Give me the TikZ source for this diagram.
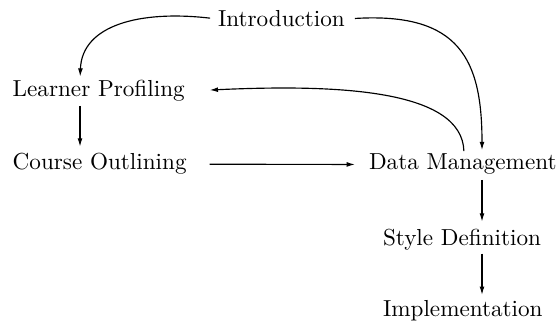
\documentclass[tikz,border=0pt]{standalone}
\usetikzlibrary{arrows.meta,calc}
\newdimen\pxu
\pxu=0.43178pt
\begin{document}
\begin{tikzpicture}[x=0.43178pt,y=-0.43178pt,
  lbl/.style={inner sep=0pt,outer sep=0pt,anchor=base west,font=\fontsize{10}{12}\selectfont},
  conn/.style={line width=0.5pt,-{Latex[length=3.6pt,width=2.1pt]}}]
\useasboundingbox (0,0) rectangle (559,322);
\fill[white] (0,0) rectangle (559,322);
\node[lbl] (intro) at (218,27) {Introduction};
\node[lbl] (lp) at (12.7,97) {Learner Profiling};
\node[lbl] (co) at (12.7,170) {Course Outlining};
\node[lbl] (dm) at (369,170) {Data Management};
\node[lbl] (sd) at (383,246) {Style Definition};
\node[lbl] (impl) at (383,317) {Implementation};
\coordinate (colL) at (80,0);
\coordinate (colR) at (482,0);
\coordinate (colM) at (464,0);
% Introduction -> Learner Profiling
\draw[conn,shorten <=8\pxu,shorten >=4\pxu] (intro.west) .. controls (140,10) and (82,25) .. (lp.north -| colL);
% Introduction -> Data Management
\draw[conn,shorten <=10\pxu,shorten >=4\pxu] (intro.east) .. controls (460,12) and (482,60) .. (dm.north -| colR);
% Data Management -> Learner Profiling
\draw[conn,shorten <=3\pxu,shorten >=25\pxu] (dm.north -| colM) .. controls (462,90) and (340,84) .. (lp.east);
% Learner Profiling -> Course Outlining
\draw[conn,shorten <=4\pxu,shorten >=7\pxu] (lp.south -| colL) -- (co.north -| colL);
% Course Outlining -> Data Management
\draw[conn,shorten <=23\pxu,shorten >=14\pxu] (co.east) -- (dm.west);
% Data Management -> Style Definition
\draw[conn,shorten <=5\pxu,shorten >=8\pxu] (dm.south -| colR) -- (sd.north -| colR);
% Style Definition -> Implementation
\draw[conn,shorten <=3\pxu,shorten >=6\pxu] (sd.south -| colR) -- (impl.north -| colR);
\end{tikzpicture}
\end{document}
